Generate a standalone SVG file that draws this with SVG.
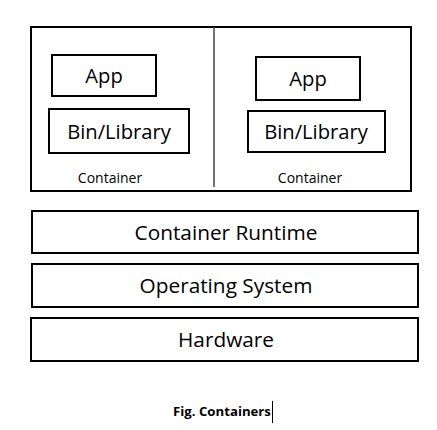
<svg xmlns="http://www.w3.org/2000/svg" width="437" height="430" viewBox="0 0 437 430">
<style>
.box{fill:none;stroke:#000;stroke-width:2}
.t{font-family:"Open Sans","Noto Sans",sans-serif;fill:#000;text-anchor:middle}
.big{font-size:20.8px}
.mid{font-size:20.2px}
.sm{font-size:14px}
.cap{font-family:"Open Sans","Noto Sans",sans-serif;font-size:13.2px;font-weight:bold;text-anchor:middle}
</style>
<rect width="437" height="430" fill="#fff"/>
<g id="host">
<rect class="box" x="31" y="27" width="380" height="164"/>
</g>
<g id="connectors">
<line x1="214" y1="27" x2="214" y2="187" stroke="#444" stroke-width="1.5"/>
</g>
<g id="container1">
<text class="t sm" x="110" y="183">Container</text>
</g>
<g id="app1">
<rect class="box" x="52" y="55" width="104" height="41"/>
<text class="t mid" x="104" y="83">App</text>
</g>
<g id="bin1">
<rect class="box" x="49" y="109" width="140" height="44"/>
<text class="t mid" x="119" y="139">Bin/Library</text>
</g>
<g id="container2">
<text class="t sm" x="310" y="183">Container</text>
</g>
<g id="app2">
<rect class="box" x="256" y="57" width="104" height="43"/>
<text class="t mid" x="308" y="86">App</text>
</g>
<g id="bin2">
<rect class="box" x="248" y="111" width="137" height="41"/>
<text class="t mid" x="316" y="139">Bin/Library</text>
</g>
<g id="runtime">
<rect class="box" x="32" y="211" width="386" height="42"/>
<text class="t big" x="226" y="240">Container Runtime</text>
</g>
<g id="os">
<rect class="box" x="32" y="264" width="386" height="43"/>
<text class="t big" x="226" y="293">Operating System</text>
</g>
<g id="hardware">
<rect class="box" x="31" y="318" width="387" height="43"/>
<text class="t big" x="226" y="347">Hardware</text>
</g>
<g id="caption">
<text class="cap" x="222" y="416">Fig. Containers</text>
<line x1="272.5" y1="401" x2="272.5" y2="423" stroke="#000" stroke-width="1"/>
</g>
</svg>
